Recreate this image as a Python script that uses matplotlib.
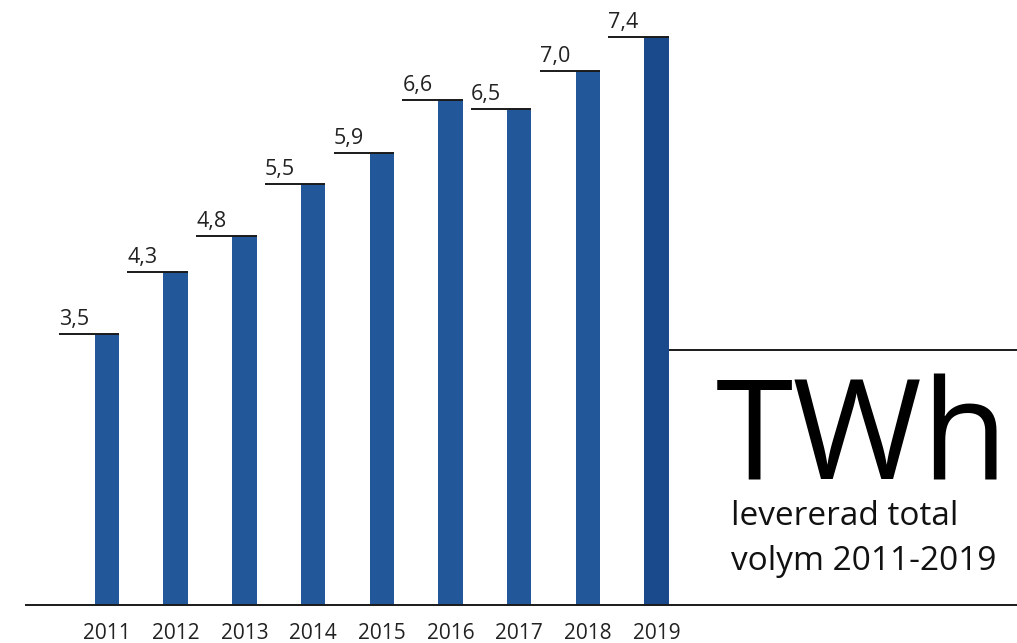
import matplotlib.pyplot as plt

# data
years = ['2011', '2012', '2013', '2014', '2015', '2016', '2017', '2018', '2019']
twh = [3.53, 4.34, 4.80, 5.48, 5.89, 6.58, 6.46, 6.95, 7.40]
labels = ['3,5', '4,3', '4,8', '5,5', '5,9', '6,6', '6,5', '7,0', '7,4']

bar_color = '#22589a'
last_color = '#1a4a8c'

plt.rcParams['font.family'] = ['Open Sans', 'DejaVu Sans']

W, H = 1017, 643
fig = plt.figure(figsize=(W / 100, H / 100), dpi=100)
ax = fig.add_axes([0, 0, 1, 1])
ax.axis('off')

# pixel mapping: bar 0 center at x=107px, spacing 68.7px; baseline at y=605px, 76.8px per TWh
px_x = 68.7
px_y = 76.8
ax.set_xlim(-107 / px_x, (W - 107) / px_x)
ax.set_ylim(-(H - 605) / px_y, 605 / px_y)

width = 24.5 / px_x
xs = list(range(len(years)))
colors = [bar_color] * (len(years) - 1) + [last_color]
ax.bar(xs, twh, width=width, color=colors, zorder=2)

# baseline
ax.axhline(0, xmin=26 / W, xmax=1, color='#1a1a1a', lw=1.4, zorder=3)

# value labels with leader lines
ext = 36 / px_x
for x, v, lab in zip(xs, twh, labels):
    left = x - width / 2 - ext
    ax.hlines(v, left, x + width / 2, color='#1a1a1a', lw=1.4, zorder=3)
    ax.text(left, v + 4 / px_y, lab, fontsize=15.5, ha='left', va='bottom', color='#222222')

# year labels
for x, y in zip(xs, years):
    ax.text(x, -(639 - 605) / px_y, y, fontsize=15, ha='center', va='baseline', color='#222222')

# TWh panel
ax.hlines((605 - 350) / px_y, xs[-1] + width / 2, (W - 107) / px_x, color='#1a1a1a', lw=1.4)
fig.text(716 / W, 1 - 480 / H, 'TWh', fontsize=101, ha='left', va='baseline', color='black')
fig.text(731 / W, 1 - 525 / H, 'levererad total', fontsize=24, ha='left', va='baseline', color='#111111')
fig.text(731 / W, 1 - 570 / H, 'volym 2011-2019', fontsize=24, ha='left', va='baseline', color='#111111')

plt.savefig('out.png', dpi=100)
